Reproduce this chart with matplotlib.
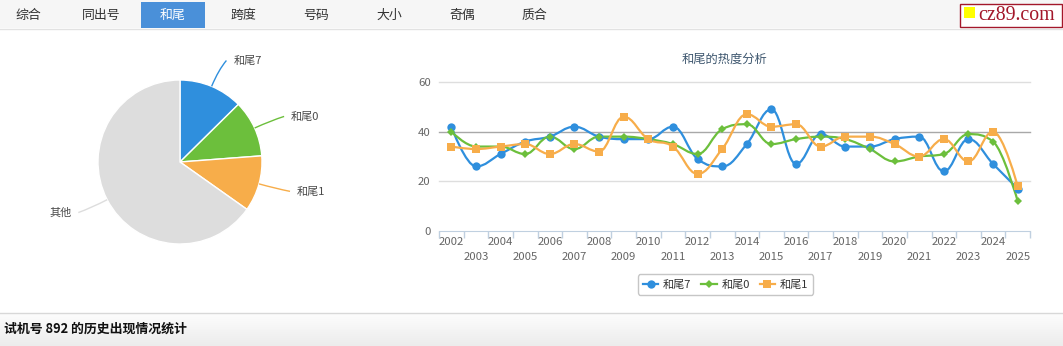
import numpy as np
import matplotlib
matplotlib.use('Agg')
import matplotlib.pyplot as plt
from matplotlib.path import Path
from matplotlib.patches import PathPatch, Rectangle
from matplotlib.lines import Line2D

plt.rcParams['font.family'] = ['Noto Sans CJK SC', 'DejaVu Sans']

# data
tabs = ['综合', '同出号', '和尾', '跨度', '号码', '大小', '奇偶', '质合']
active_tab = '和尾'
pie_labels = ['和尾7', '和尾0', '和尾1', '其他']
pie_values = [12.6, 11.2, 11.0, 65.2]
years = [str(y) for y in range(2002, 2026)]
s_he7 = [42, 26, 31, 36, 38, 42, 38, 37, 37, 42, 29, 26, 35, 49, 27, 39, 34, 34, 37, 38, 24, 37, 27, 17]
s_he0 = [40, 34, 34, 31, 38, 33, 38, 38, 37, 35, 31, 41, 43, 35, 37, 38, 37, 33, 28, 30, 31, 39, 36, 12]
s_he1 = [34, 33, 34, 35, 31, 35, 32, 46, 37, 34, 23, 33, 47, 42, 43, 34, 38, 38, 35, 30, 37, 28, 40, 18]
series_names = ['和尾7', '和尾0', '和尾1']
chart_title = '和尾的热度分析'
footer = '试机号 892 的历史出现情况统计'

BLUE = '#2f8fdd'
GREEN = '#6cbf3c'
ORANGE = '#f7ad4a'
GRAY = '#dddddd'

W, H = 1063, 346
fig = plt.figure(figsize=(W / 100, H / 100), dpi=100)
fig.patch.set_facecolor('white')


def fbox(x0, y0, x1, y1):
    # pixel box (top-left origin) -> figure fraction rect
    return [x0 / W, 1 - y1 / H, (x1 - x0) / W, (y1 - y0) / H]


# background overlay in pixel coordinates
bg = fig.add_axes([0, 0, 1, 1], zorder=0)
bg.axis('off')

# nav bar
bg.add_patch(Rectangle((0, 0), W, 28, facecolor='#f6f6f6', edgecolor='none'))
bg.plot([0, W], [28.5, 28.5], color='#e2e2e2', lw=1)
tab_x = [28, 101, 173, 243, 316, 389, 462, 534]
for name, tx in zip(tabs, tab_x):
    if name == active_tab:
        bg.add_patch(Rectangle((141, 2), 64, 26, facecolor='#4a90d9', edgecolor='none'))
        bg.text(tx, 15, name, color='white', fontsize=9.3, ha='center', va='center')
    else:
        bg.text(tx, 15, name, color='#333333', fontsize=9.3, ha='center', va='center')

# logo
bg.add_patch(Rectangle((959.5, 3.5), 102, 23, facecolor='white', edgecolor='#a3172a', lw=1))
bg.add_patch(Rectangle((964, 7), 11, 11, facecolor='#ffff00', edgecolor='none'))
bg.text(978, 15.5, 'cz89.com', family='Liberation Serif', color='#a3172a', fontsize=14.3,
        ha='left', va='center')

# footer bar
grad = np.linspace(0, 1, 50).reshape(-1, 1)
bg.imshow(grad, extent=(0, W, H, 313), cmap=matplotlib.colors.LinearSegmentedColormap.from_list(
    'g', ['#fdfdfd', '#ececec']), aspect='auto', zorder=0)
bg.plot([0, W], [312.5, 312.5], color='#d8d8d8', lw=1)
bg.text(4, 329, footer, fontsize=9.3, fontweight='bold', color='#111111', ha='left', va='center')
bg.set_xlim(0, W)
bg.set_ylim(H, 0)

# pie
axp = fig.add_axes(fbox(80, 62, 280, 262), zorder=2)
R = 0.82
wedges, _ = axp.pie(pie_values, colors=[BLUE, GREEN, ORANGE, GRAY], startangle=90,
                    counterclock=False, radius=R,
                    wedgeprops=dict(edgecolor='white', linewidth=1))
axp.set_xlim(-1, 1)
axp.set_ylim(-1, 1)
axp.set_aspect('equal')
axp.axis('off')
for w, lab in zip(wedges, pie_labels):
    mid = np.deg2rad((w.theta1 + w.theta2) / 2)
    c, s = np.cos(mid), np.sin(mid)
    p0 = (R * c, R * s)
    p1 = (1.0 * c, 1.0 * s)
    side = 1 if c >= 0 else -1
    p2 = (1.1 * c + side * 0.04, 1.1 * s)
    col = w.get_facecolor()
    path = Path([p0, p1, p2], [Path.MOVETO, Path.CURVE3, Path.CURVE3])
    axp.add_patch(PathPatch(path, facecolor='none', edgecolor=col, lw=1, clip_on=False))
    axp.text(p2[0] + side * 0.07, p2[1], lab, fontsize=8, color='#4a4a4a',
             ha='left' if side > 0 else 'right', va='center', clip_on=False)


# spline (Highcharts-like)
def spline_path(xs, ys, sm=1.5):
    n = len(xs)
    verts = [(xs[0], ys[0])]
    codes = [Path.MOVETO]
    rc = [None] * n
    for i in range(1, n):
        px, py = xs[i], ys[i]
        lx, ly = xs[i - 1], ys[i - 1]
        lcx, lcy = px, py
        if i < n - 1:
            nx, ny = xs[i + 1], ys[i + 1]
            d = sm + 1
            lcx = (sm * px + lx) / d
            lcy = (sm * py + ly) / d
            rcx = (sm * px + nx) / d
            rcy = (sm * py + ny) / d
            corr = (rcy - lcy) * (rcx - px) / (rcx - lcx) + py - rcy
            lcy += corr
            rcy += corr
            if lcy > ly and lcy > py:
                lcy = max(ly, py)
                rcy = 2 * py - lcy
            elif lcy < ly and lcy < py:
                lcy = min(ly, py)
                rcy = 2 * py - lcy
            if rcy > ny and rcy > py:
                rcy = max(ny, py)
                lcy = 2 * py - rcy
            elif rcy < ny and rcy < py:
                rcy = min(ny, py)
                lcy = 2 * py - rcy
            rc[i] = (rcx, rcy)
        prev = rc[i - 1] if rc[i - 1] is not None else (lx, ly)
        verts += [prev, (lcx, lcy), (px, py)]
        codes += [Path.CURVE4] * 3
    return Path(verts, codes)


axl = fig.add_axes(fbox(439, 82, 1030, 231), zorder=2)
axl.patch.set_alpha(0)
x = np.arange(len(years))
axl.set_xlim(-0.5, len(years) - 0.5)
axl.set_ylim(0, 60)
for sp in ['top', 'right', 'left']:
    axl.spines[sp].set_visible(False)
axl.spines['bottom'].set_color('#c0d0e0')
for gv in [20, 40, 60]:
    axl.axhline(gv, color='#a8a8a8' if gv == 40 else '#dedede', lw=1, zorder=1, clip_on=False)
axl.set_yticks([0, 20, 40, 60])
axl.tick_params(axis='y', length=0, pad=6, labelsize=8.2, labelcolor='#666666')
axl.set_xticks(x)
axl.set_xticklabels(years)
axl.set_xticks(np.arange(-0.5, len(years), 1), minor=True)
axl.tick_params(axis='x', which='major', length=0, labelsize=8.2, labelcolor='#666666')
axl.tick_params(axis='x', which='minor', length=5, color='#c0d0e0', width=1)
for i, t in enumerate(axl.xaxis.get_major_ticks()):
    t.set_pad(4 if i % 2 == 0 else 15)

styles = [(s_he7, BLUE, 'o', 6), (s_he0, GREEN, 'D', 3.8), (s_he1, ORANGE, 's', 6)]
handles = []
for (vals, col, mk, ms), name in zip(styles, series_names):
    axl.add_patch(PathPatch(spline_path(list(x), vals), facecolor='none', edgecolor=col,
                            lw=1.6, zorder=3, clip_on=False))
    axl.plot(x, vals, linestyle='none', marker=mk, color=col, ms=ms, mew=0, zorder=4, clip_on=False)
    handles.append(Line2D([], [], color=col, lw=1.6, marker=mk, ms=ms, mew=0))

fig.text(725 / W, 1 - 59 / H, chart_title, fontsize=8.8, color='#3e576f', ha='center', va='center')

leg = fig.legend(handles, series_names, loc='center', bbox_to_anchor=(725.5 / W, 1 - 284.5 / H),
                 ncol=3, fontsize=8, frameon=True, handlelength=1.4, handletextpad=0.4,
                 columnspacing=0.9, borderpad=0.45, fancybox=True, labelcolor='#333333')
leg.get_frame().set_edgecolor('#b8b8b8')
leg.get_frame().set_linewidth(1)

fig.savefig('out.png', dpi=100)
